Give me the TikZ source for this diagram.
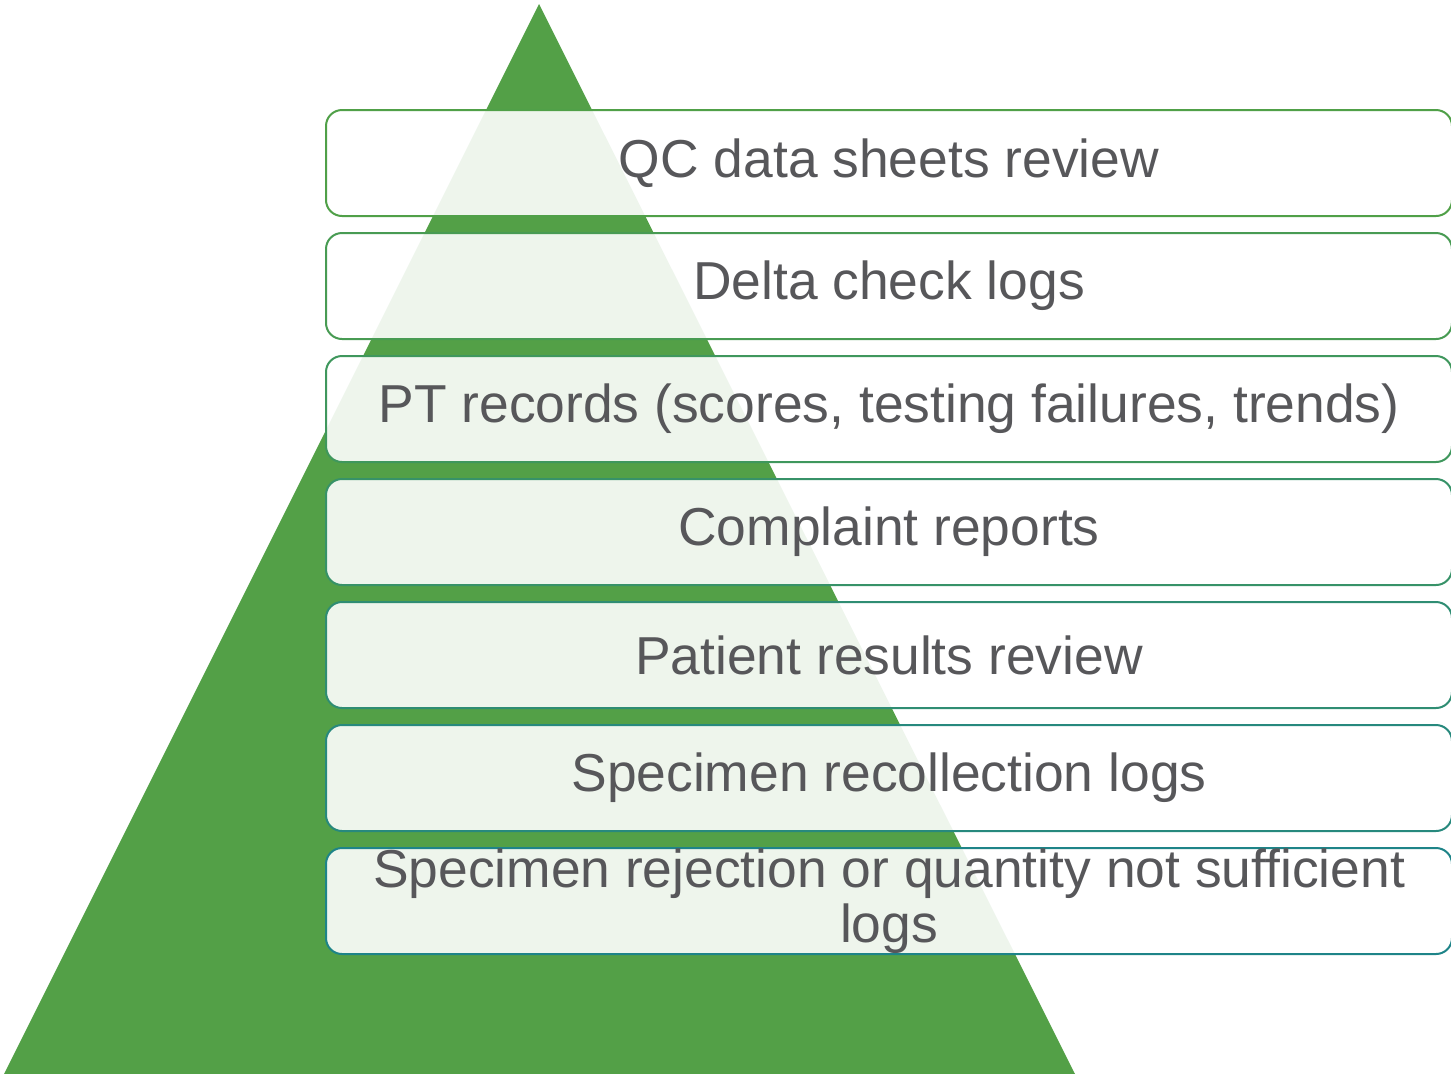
\documentclass[tikz,border=0pt]{standalone}
\usepackage{fontspec}
\setmainfont{Liberation Sans}
\usetikzlibrary{positioning}
\definecolor{pyrgreen}{RGB}{83,160,71}
\definecolor{lngreen}{RGB}{80,160,72}
\definecolor{lnteal}{RGB}{30,132,136}
\definecolor{txtgray}{RGB}{87,87,90}
\tikzset{%
    tier/.style={rectangle,rounded corners=8pt,draw=#1,line width=1pt,
        fill=white,fill opacity=.9,text opacity=1,text=txtgray,
        minimum width=563pt,minimum height=53pt,inner sep=0pt,align=center,
        font=\fontsize{26.7}{27.5}\selectfont}
}
\begin{document}
\begin{tikzpicture}[x=0.5pt,y=-0.5pt,node distance=7.5pt]
            \useasboundingbox (0,0) rectangle (1451,1073);
            \fill[pyrgreen] (539,4) -- (1076,1076) -- (3,1076) -- cycle;
            %%%%%
            \node [tier=lngreen] (t1) at (889,163) {\raisebox{-1pt}{QC data sheets review}};
            \node [tier=lnteal!17!lngreen,below= of t1] (t2) {\raisebox{-1pt}{Delta check logs}};
            \node [tier=lnteal!33!lngreen,below= of t2] (t3) {\raisebox{-1pt}{PT records (scores, testing failures, trends)}};
            \node [tier=lnteal!50!lngreen,below= of t3] (t4) {\raisebox{-1pt}{Complaint reports}};
            \node [tier=lnteal!67!lngreen,below= of t4] (t5) {\raisebox{-1pt}{Patient results review}};
            \node [tier=lnteal!83!lngreen,below= of t5] (t6) {\raisebox{-1pt}{Specimen recollection logs}};
            \node [tier=lnteal,below= of t6] (t7) {Specimen rejection or quantity not sufficient\\logs};
\end{tikzpicture}
\end{document}
